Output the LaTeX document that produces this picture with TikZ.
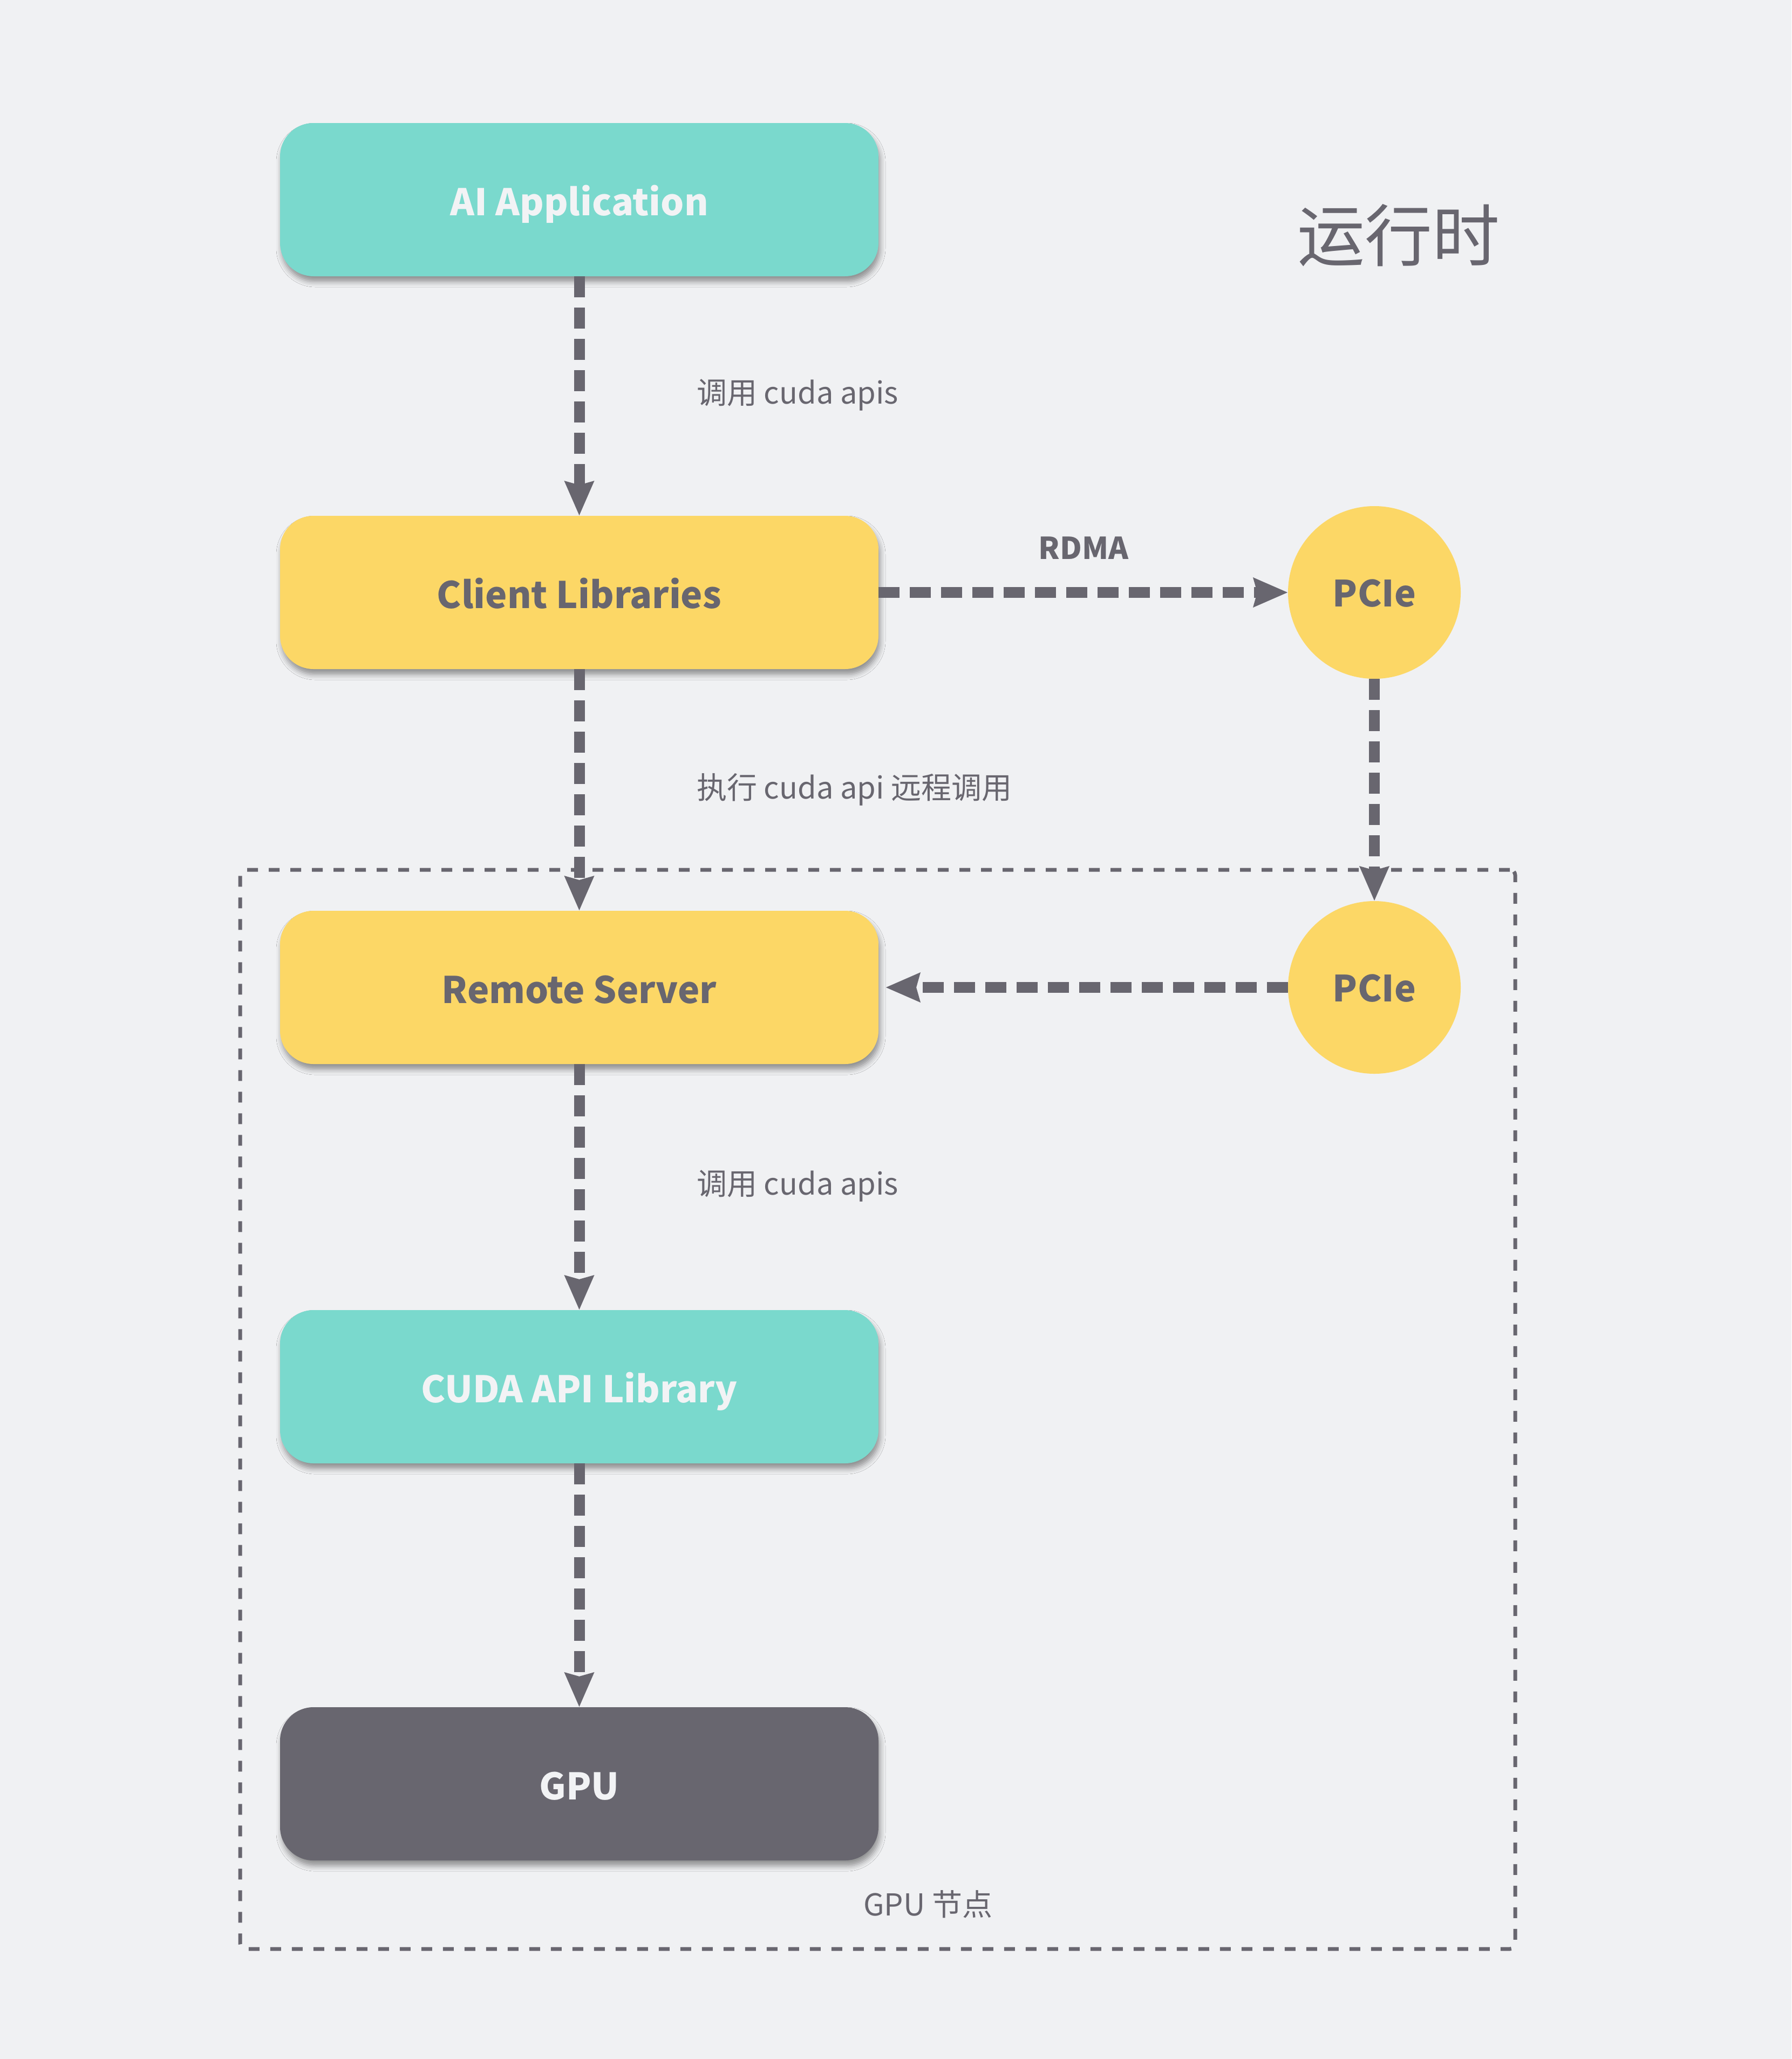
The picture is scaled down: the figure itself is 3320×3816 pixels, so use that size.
\documentclass[tikz,border=0pt]{standalone}
\usepackage{fontspec}
\setmainfont{Noto Sans CJK SC}
\usetikzlibrary{arrows.meta,shadows.blur}
\definecolor{bgc}{HTML}{F0F1F3}
\definecolor{ink}{HTML}{68666F}
\definecolor{teal}{HTML}{7AD9CD}
\definecolor{sun}{HTML}{FCD766}
\definecolor{paper}{HTML}{F2F3F5}
\tikzset{
  x=1pt, y=-1pt,
  box/.style={rectangle, rounded corners=62pt, minimum width=1109pt, minimum height=284pt,
    inner sep=0pt, outer sep=0pt, font=\fontsize{68}{80}\selectfont\bfseries,
    text height=63pt, text depth=4pt,
    blur shadow={shadow xshift=3pt, shadow yshift=-10pt, shadow blur radius=10pt, shadow opacity=40}},
  tealbox/.style={box, fill=teal, text=paper},
  sunbox/.style={box, fill=sun, text=ink},
  darkbox/.style={box, fill=ink, text=paper},
  pcie/.style={circle, fill=sun, minimum size=320pt, inner sep=0pt, outer sep=0pt,
    text=ink, font=\fontsize{67}{80}\selectfont\bfseries, text height=56pt, text depth=4pt},
  conn/.style={draw=ink, line width=20pt, dash pattern=on 39pt off 19pt,
    -{Stealth[length=63pt, width=52pt, inset=6pt]}},
  lbl/.style={text=ink, inner sep=0pt, font=\fontsize{56}{68}\selectfont},
}
\begin{document}
\begin{tikzpicture}
\path[fill=bgc] (0,0) rectangle (3320,3816);
\useasboundingbox (0,0) rectangle (3320,3816);

% frame
\node[draw=ink, line width=7pt, dash pattern=on 20pt off 20pt, rounded corners=10pt,
  minimum width=2363pt, minimum height=2000pt, inner sep=0pt, outer sep=0pt] (frame) at (1626.5,2612) {};

% boxes
\node[tealbox] (ai) at (1073.5,370) {AI Application};
\node[sunbox] (client) at (1073.5,1098) {Client Libraries};
\node[sunbox] (remote) at (1073.5,1830) {Remote Server};
\node[tealbox] (cuda) at (1073.5,2570) {CUDA API Library};
\node[darkbox] (gpu) at (1073.5,3306) {GPU};

\node[pcie] (pcie1) at (2547,1098) {PCIe};
\node[pcie] (pcie2) at (2547,1830) {PCIe};

% connectors
\draw[conn] (ai.south) -- (client.north);
\draw[conn] (client.south) -- (remote.north);
\draw[conn] (remote.south) -- (cuda.north);
\draw[conn] (cuda.south) -- (gpu.north);
\draw[conn] (client.east) -- (pcie1.west);
\draw[conn] (pcie1.south) -- (pcie2.north);
\draw[conn, shorten >=13pt] (pcie2.west) -- (remote.east);

% labels
\node[lbl, anchor=base west] (l1) at (1291,748) {调用 cuda apis};
\node[lbl, anchor=base west] (l2) at (1291,1480) {执行 cuda api 远程调用};
\node[lbl, anchor=base west] (l3) at (1291,2214) {调用 cuda apis};
\node[lbl, anchor=base, font=\fontsize{56}{66}\selectfont\bfseries] (rdma) at (2008,1036) {RDMA};
\node[lbl, font=\fontsize{125}{150}\selectfont] (title) at (2592,436) {运行时};
\node[lbl, anchor=base west] (node) at (1600,3550) {GPU 节点};
\end{tikzpicture}
\end{document}
